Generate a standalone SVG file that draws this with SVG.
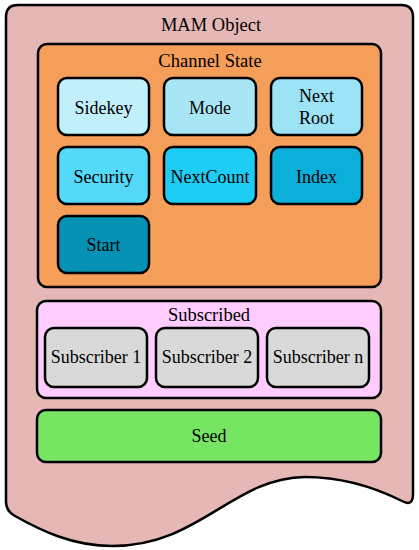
<svg xmlns="http://www.w3.org/2000/svg" width="419" height="550" viewBox="0 0 419 550">
<style>
.b{stroke:#000;stroke-width:2.5}
.t{font-family:"Liberation Serif","Times New Roman",serif;font-size:18.5px;fill:#000;text-anchor:middle}
.n{font-family:"Liberation Serif","Times New Roman",serif;font-size:18px;fill:#000;text-anchor:middle}
</style>
<g id="mam-object">
<path class="b" fill="#e5b8b6" d="M6,17 Q6,5 18,5 H401 Q413,5 413,17 V494 Q413,507 402,501 C372,486 342,477 305,477 C232,478 200,546 112,546 C72,546 40,530 15,516 Q6,511 6,502 Z"/>
<text class="t" x="211" y="31">MAM Object</text>
</g>
<g id="channel-state">
<rect class="b" fill="#f59e5a" x="38" y="44" width="343" height="243" rx="9"/>
<text class="t" x="210" y="67">Channel State</text>
</g>
<g id="sidekey"><rect class="b" fill="#c1effa" x="58" y="78" width="91" height="57" rx="9"/><text class="n" x="103.5" y="114">Sidekey</text></g>
<g id="mode"><rect class="b" fill="#a8e6f6" x="164" y="78" width="92" height="57" rx="9"/><text class="n" x="210" y="114">Mode</text></g>
<g id="next-root"><rect class="b" fill="#9ce3f5" x="271" y="78" width="91" height="57" rx="9"/><text class="n" x="316.5" y="102">Next</text><text class="n" x="316.5" y="124">Root</text></g>
<g id="security"><rect class="b" fill="#55d9f8" x="58" y="147" width="91" height="57" rx="9"/><text class="n" x="103.5" y="183">Security</text></g>
<g id="nextcount"><rect class="b" fill="#1ecdf4" x="164" y="147" width="92" height="57" rx="9"/><text class="n" x="210" y="183">NextCount</text></g>
<g id="index"><rect class="b" fill="#0ab0da" x="271" y="147" width="91" height="57" rx="9"/><text class="n" x="316.5" y="183">Index</text></g>
<g id="start"><rect class="b" fill="#0592b4" x="58" y="216" width="91" height="57" rx="9"/><text class="n" x="103.5" y="251">Start</text></g>
<g id="subscribed">
<rect class="b" fill="#ffccff" x="37" y="301" width="344" height="97" rx="9"/>
<text class="t" x="209" y="321">Subscribed</text>
</g>
<g id="subscriber-1"><rect class="b" fill="#d9d9d9" x="45" y="328" width="102" height="59" rx="9"/><text class="n" x="96" y="363">Subscriber 1</text></g>
<g id="subscriber-2"><rect class="b" fill="#d9d9d9" x="156" y="328" width="102" height="59" rx="9"/><text class="n" x="207" y="363">Subscriber 2</text></g>
<g id="subscriber-n"><rect class="b" fill="#d9d9d9" x="267" y="328" width="102" height="59" rx="9"/><text class="n" x="318" y="363">Subscriber n</text></g>
<g id="seed"><rect class="b" fill="#76e562" x="37" y="410" width="344" height="52" rx="9"/><text class="n" x="209" y="442">Seed</text></g>
<g id="connectors"/>
</svg>
